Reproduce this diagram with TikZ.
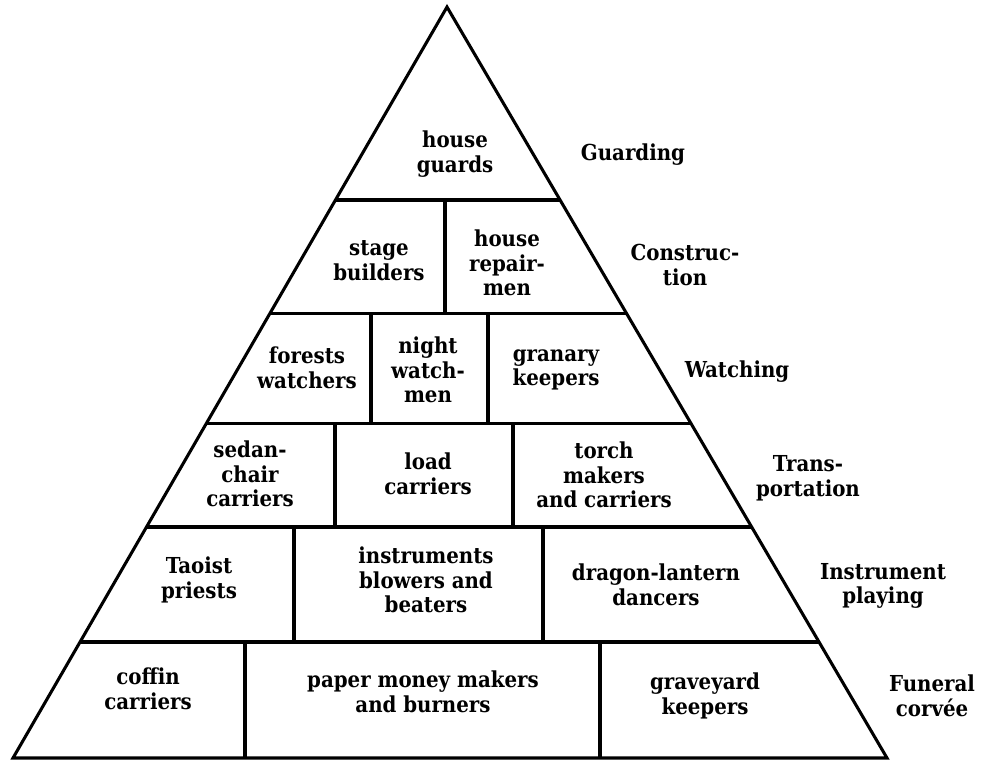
\documentclass[tikz,border=0pt]{standalone}
\usepackage{fontspec}
\setmainfont{DejaVu Serif Condensed}
\usetikzlibrary{calc}
\tikzset{
  cell/.style={align=center, inner sep=0pt, font=\fontsize{16.5}{18.5}\selectfont\bfseries},
  duty/.style={cell},
  wall/.style={line width=2.3pt}
}

\begin{document}
\begin{tikzpicture}[x=0.75pt,y=-0.75pt]
  \useasboundingbox (0,0) rectangle (982,761);
  \coordinate (A) at (447,7);
  \coordinate (B) at (13,758);
  \coordinate (C) at (887,758);
  \draw[wall, line join=miter] (A) -- (B) -- (C) -- cycle;
  % floors of the pyramid
  \foreach \t in {0.257,0.4075,0.554,0.6924,0.8455}{
    \draw[wall] ($(A)!\t!(B)$) -- ($(A)!\t!(C)$);
  }
  % walls between the cells
  \draw[wall] (445,200) -- (445,313);
  \draw[wall] (371,313) -- (371,423);
  \draw[wall] (488,313) -- (488,423);
  \draw[wall] (335,423) -- (335,527);
  \draw[wall] (513,423) -- (513,527);
  \draw[wall] (294,527) -- (294,642);
  \draw[wall] (543,527) -- (543,642);
  \draw[wall] (245,642) -- (245,758);
  \draw[wall] (600,642) -- (600,758);

  \node[cell] (guards) at (455,154) {house\\guards};
  \node[cell] (stage) at (379,261) {stage\\builders};
  \node[cell] (repair) at (507,263) {house\\repair-\\men};
  \node[cell] (forests) at (307,368) {forests\\watchers};
  \node[cell] (night) at (428,370) {night\\watch-\\men};
  \node[cell] (granary) at (556,370) {granary\\keepers};
  \node[cell] (sedan) at (250,474) {sedan-\\chair\\carriers};
  \node[cell] (load) at (428,474) {load\\carriers};
  \node[cell] (torch) at (604,475) {torch\\makers\\and carriers};
  \node[cell] (taoist) at (199,580) {Taoist\\priests};
  \node[cell] (blowers) at (426,580) {instruments\\blowers and\\beaters};
  \node[cell] (dragon) at (656,585) {dragon-lantern\\dancers};
  \node[cell] (coffin) at (148,689) {coffin\\carriers};
  \node[cell] (paper) at (423,692) {paper money makers\\and burners};
  \node[cell] (graveyard) at (705,696) {graveyard\\keepers};

  \node[duty] (guarding) at (633,155) {Guarding};
  \node[duty] (construction) at (685,265) {Construc-\\tion};
  \node[duty] (watching) at (737,372) {Watching};
  \node[duty] (transport) at (808,478) {Trans-\\portation};
  \node[duty] (playing) at (883,586) {Instrument\\playing};
  \node[duty] (funeral) at (932,696) {Funeral\\corvée};
\end{tikzpicture}
\end{document}
